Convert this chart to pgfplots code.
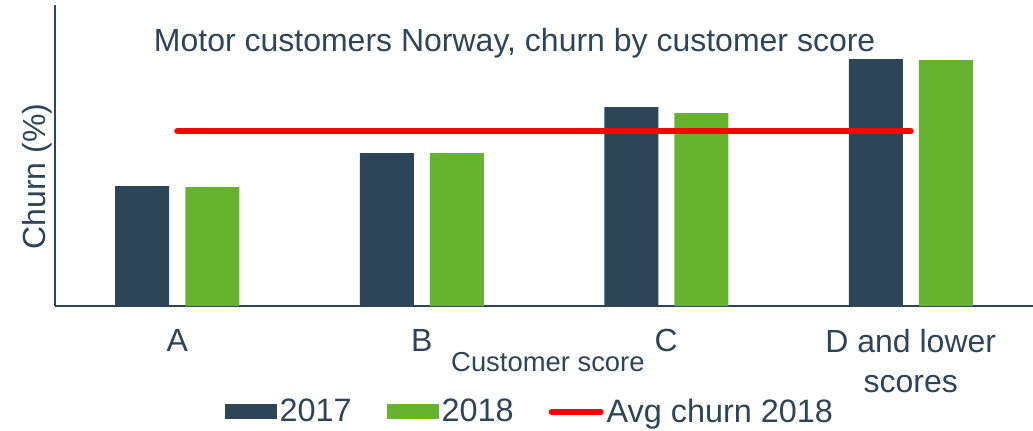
\documentclass[border=0pt]{standalone}
\usepackage{fontspec}
\setmainfont{Liberation Sans}
\usepackage{pgfplots}
\pgfplotsset{compat=1.18}
\definecolor{dark}{HTML}{2E4457}
\definecolor{grn}{HTML}{67B22F}
\definecolor{avgred}{HTML}{FF0000}
\begin{document}
\begin{tikzpicture}
\useasboundingbox (-27.5pt,-62pt) rectangle (489pt,153pt);
\begin{axis}[
  at={(0,0)}, anchor=south west,
  scale only axis, width=489pt, height=150.5pt,
  xmin=-0.5, xmax=3.5, ymin=0, ymax=30.1,
  axis x line=bottom, axis y line=left,
  axis line style={-, draw=dark, line width=1pt},
  ytick=\empty,
  xtick={0,1,2,3}, xticklabels={A,B,C,{D and lower\\scores}},
  major tick length=0pt,
  xticklabel style={align=center, font=\fontsize{16}{20}\selectfont, text=dark, yshift=-8pt},
  clip=false,
  legend columns=3,
  legend style={draw=none, fill=none, at={(axis description cs:0.486,-0.352)}, anchor=center,
    font=\fontsize{16.2}{19}\selectfont, text=dark,
    nodes={inner sep=1.5pt},
    /tikz/every even column/.append style={column sep=16pt}},
]
\addplot[ybar, bar width=27pt, bar shift=-17.5pt, fill=dark, draw=none,
  legend image code/.code={\fill[dark] (0pt,-3.75pt) rectangle (26pt,3.75pt);}]
  coordinates {(0,12.0) (1,15.3) (2,19.9) (3,24.7)};
\addlegendentry{2017}
\addplot[ybar, bar width=27pt, bar shift=17.5pt, fill=grn, draw=none,
  legend image code/.code={\fill[grn] (0pt,-3.75pt) rectangle (26pt,3.75pt);}]
  coordinates {(0,11.9) (1,15.3) (2,19.3) (3,24.6)};
\addlegendentry{2018}
\addplot[avgred, line width=3pt, line cap=round,
  legend image code/.code={\draw[avgred, line width=3pt, line cap=round] (1.5pt,0pt) -- (26pt,0pt);}]
  coordinates {(0,17.5) (3,17.5)};
\addlegendentry{Avg churn 2018}
\node[anchor=base, font=\fontsize{16}{19}\selectfont, text=dark] at (axis description cs:0.470,0.844) {Motor customers Norway, churn by customer score};
\node[rotate=90, font=\fontsize{16}{19}\selectfont, text=dark] at (axis description cs:-0.018,0.43) {Churn (\%)};
\node[anchor=base, font=\fontsize{13.7}{16}\selectfont, text=dark] at (axis description cs:0.504,-0.219) {Customer score};
\end{axis}
\end{tikzpicture}
\end{document}
